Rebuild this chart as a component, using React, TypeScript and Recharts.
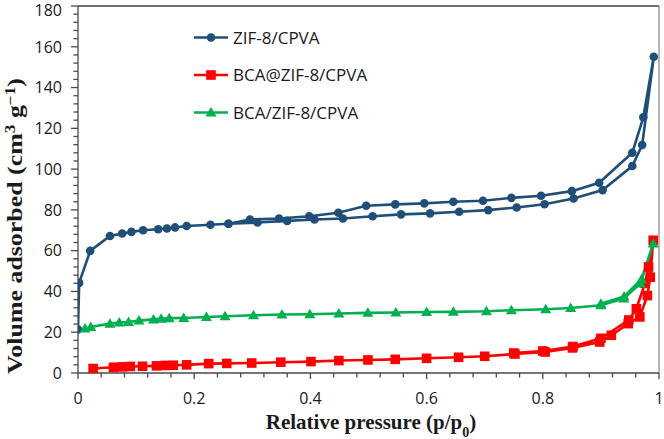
import React from 'react';
import { LineChart, Line, XAxis, YAxis, ReferenceLine } from 'recharts';

// ---------- data ----------
const zifP = [0.0, 0.002, 0.021, 0.055, 0.076, 0.092, 0.112, 0.138, 0.153, 0.167, 0.187, 0.228, 0.259, 0.309, 0.36, 0.407, 0.456, 0.507, 0.556, 0.606, 0.656, 0.706, 0.755, 0.803, 0.853, 0.903, 0.954, 0.971, 0.991, 0.973, 0.954, 0.897, 0.85, 0.797, 0.746, 0.697, 0.646, 0.596, 0.546, 0.496, 0.448, 0.398, 0.346, 0.296, 0.259];
const zifV = [21.3, 44.2, 59.9, 67.2, 68.4, 69.2, 70.0, 70.5, 70.9, 71.4, 72.1, 72.7, 73.2, 73.8, 74.6, 75.3, 75.8, 76.9, 77.8, 78.3, 79.1, 79.9, 81.2, 82.8, 85.6, 89.7, 101.5, 111.8, 155.1, 125.4, 108.0, 93.3, 89.2, 86.9, 85.9, 84.5, 84.0, 83.2, 82.7, 82.0, 78.6, 76.9, 75.8, 75.3, 73.2];

const bcaAtP = [0.026, 0.061, 0.076, 0.09, 0.111, 0.135, 0.15, 0.164, 0.187, 0.225, 0.256, 0.299, 0.349, 0.401, 0.449, 0.499, 0.546, 0.6, 0.655, 0.7, 0.752, 0.804, 0.851, 0.898, 0.918, 0.947, 0.967, 0.98, 0.985, 0.99, 0.982, 0.976, 0.961, 0.948, 0.9, 0.852, 0.8, 0.75];
const bcaAtV = [2.2, 2.8, 3.0, 3.2, 3.3, 3.5, 3.7, 3.8, 4.0, 4.6, 4.7, 4.9, 5.3, 5.6, 6.1, 6.4, 6.7, 7.2, 7.7, 8.2, 9.3, 10.3, 12.3, 15.2, 18.5, 24.2, 27.5, 38.0, 47.0, 65.1, 52.0, 44.0, 31.5, 26.0, 17.0, 13.0, 10.8, 9.8];

const bcaSlashP = [0.012, 0.022, 0.055, 0.071, 0.087, 0.105, 0.13, 0.143, 0.157, 0.182, 0.221, 0.253, 0.302, 0.351, 0.399, 0.449, 0.499, 0.547, 0.6, 0.646, 0.703, 0.746, 0.805, 0.848, 0.9, 0.939, 0.968, 0.99, 0.97, 0.94, 0.9];
const bcaSlashV = [21.8, 22.6, 24.2, 24.8, 25.0, 25.7, 26.3, 26.6, 26.9, 27.0, 27.5, 27.8, 28.3, 28.7, 28.8, 29.2, 29.5, 29.7, 29.9, 30.0, 30.3, 30.8, 31.3, 31.9, 33.2, 36.5, 43.9, 63.5, 46.0, 37.5, 34.0];

const xMajorTicks = [0, 0.2, 0.4, 0.6, 0.8, 1];
const yMajorTicks = [0, 20, 40, 60, 80, 100, 120, 140, 160, 180];

const seriesNames = ['ZIF-8/CPVA', 'BCA@ZIF-8/CPVA', 'BCA/ZIF-8/CPVA'];
const seriesColors = ['#1F4E79', '#FF0000', '#00B050'];

const toPoints = (p: number[], v: number[]) => p.map((x, i) => ({ x, y: v[i] }));
const zifData = toPoints(zifP, zifV);
const bcaAtData = toPoints(bcaAtP, bcaAtV);
const bcaSlashData = toPoints(bcaSlashP, bcaSlashV);

// minor ticks: 5 sub-divisions per major interval
const xTicks: number[] = [];
for (let i = 0; i < xMajorTicks.length - 1; i++) {
  for (let k = 0; k < 5; k++) xTicks.push(+(xMajorTicks[i] + (k * (xMajorTicks[i + 1] - xMajorTicks[i])) / 5).toFixed(4));
}
xTicks.push(xMajorTicks[xMajorTicks.length - 1]);
const yTicks: number[] = [];
for (let i = 0; i < yMajorTicks.length - 1; i++) {
  for (let k = 0; k < 5; k++) yTicks.push(yMajorTicks[i] + (k * (yMajorTicks[i + 1] - yMajorTicks[i])) / 5);
}
yTicks.push(yMajorTicks[yMajorTicks.length - 1]);

// ---------- styles ----------
const AXIS = '#4a4a4a';
const TICK_FONT = '"Open Sans", sans-serif';
const TITLE_FONT = '"Liberation Serif", "Times New Roman", serif';

const isMajor = (v: number, list: number[]) => list.some((m) => Math.abs(m - v) < 1e-6);

const YTick = (props: any) => {
  const { x, y, payload } = props;
  const v = payload.value;
  const major = isMajor(v, yMajorTicks);
  const top = v === yMajorTicks[yMajorTicks.length - 1];
  return (
    <g>
      <line x1={x - (major ? 7 : 4.5)} x2={x} y1={y} y2={y} stroke={AXIS} strokeWidth={1.3} />
      {major && (
        <text x={x - 16} y={y + (top ? 4 : 0)} dy="0.36em" textAnchor="end" fontFamily={TICK_FONT} fontSize={16} fill="#1a1a1a">
          {v}
        </text>
      )}
    </g>
  );
};

const XTick = (props: any) => {
  const { x, y, payload } = props;
  const v = payload.value;
  const major = isMajor(v, xMajorTicks);
  const label = v === 0 ? '0' : v === 1 ? '1' : v.toFixed(1);
  return (
    <g>
      <line x1={x} x2={x} y1={y} y2={y + (major ? 6 : 4.5)} stroke={AXIS} strokeWidth={1.3} />
      {major && (
        <text x={x} y={y + 31} textAnchor="middle" fontFamily={TICK_FONT} fontSize={16} fill="#1a1a1a">
          {label}
        </text>
      )}
    </g>
  );
};

const markerFor = (i: number, cx: number, cy: number, key?: any) => {
  if (i === 0) return <circle key={key} cx={cx} cy={cy} r={4.3} fill={seriesColors[0]} />;
  if (i === 1) return <rect key={key} x={cx - 4.8} y={cy - 4.8} width={9.6} height={9.6} fill={seriesColors[1]} />;
  return <path key={key} d={`M${cx},${cy - 5.5} L${cx + 5.5},${cy + 4} L${cx - 5.5},${cy + 4} Z`} fill={seriesColors[2]} />;
};

const makeDot = (i: number) => (props: any) => {
  const { cx, cy, index } = props;
  if (cx == null || cy == null) return <g key={index} />;
  return markerFor(i, cx, cy, index);
};

export default function App() {
  return (
    <div style={{ position: 'absolute', left: 0, top: 0, width: 664, height: 439, background: '#fff' }}>
      <LineChart width={664} height={439} margin={{ top: 6, right: 5, left: 0, bottom: 0 }}>
        <XAxis
          dataKey="x"
          type="number"
          domain={[0, 1]}
          ticks={xTicks}
          interval={0}
          tick={<XTick />}
          tickLine={false}
          tickSize={0}
          tickMargin={0}
          height={66}
          axisLine={{ stroke: AXIS, strokeWidth: 1.3 }}
          allowDataOverflow
        />
        <YAxis
          type="number"
          domain={[0, 180]}
          ticks={yTicks}
          interval={0}
          tick={<YTick />}
          tickLine={false}
          tickSize={0}
          tickMargin={0}
          width={78}
          axisLine={{ stroke: AXIS, strokeWidth: 1.3 }}
          allowDataOverflow
        />
        <ReferenceLine y={180} stroke="#404040" strokeWidth={1.3} />
        <ReferenceLine x={1} stroke="#8c8c8c" strokeWidth={1.3} />
        <Line
          data={zifData}
          dataKey="y"
          name={seriesNames[0]}
          stroke={seriesColors[0]}
          strokeWidth={2.6}
          dot={makeDot(0)}
          activeDot={false}
          isAnimationActive={false}
        />
        <Line
          data={bcaAtData}
          dataKey="y"
          name={seriesNames[1]}
          stroke={seriesColors[1]}
          strokeWidth={2.6}
          dot={makeDot(1)}
          activeDot={false}
          isAnimationActive={false}
        />
        <Line
          data={bcaSlashData}
          dataKey="y"
          name={seriesNames[2]}
          stroke={seriesColors[2]}
          strokeWidth={2.6}
          dot={makeDot(2)}
          activeDot={false}
          isAnimationActive={false}
        />
      </LineChart>
      <svg width={664} height={439} style={{ position: 'absolute', left: 0, top: 0, pointerEvents: 'none' }}>
        {seriesNames.map((name, i) => {
          const cy = 37.5 + i * 37.5;
          return (
            <g key={name}>
              <line x1={194} x2={228} y1={cy} y2={cy} stroke={seriesColors[i]} strokeWidth={2.6} />
              {markerFor(i, 211, cy)}
              <text x={233} y={cy} dy="0.36em" fontFamily={TICK_FONT} fontSize={17} fill="#1a1a1a">
                {name}
              </text>
            </g>
          );
        })}
        <text
          x={371}
          y={429}
          textAnchor="middle"
          fontFamily={TITLE_FONT}
          fontWeight="bold"
          fontSize={21}
          fill="#1a1a1a"
        >
          Relative pressure (p/p<tspan baselineShift="sub" fontSize={14}>0</tspan>)
        </text>
        <text
          transform="translate(22,226) rotate(-90)"
          x={0}
          y={0}
          textAnchor="middle"
          fontFamily={TITLE_FONT}
          fontWeight="bold"
          fontSize={21}
          textLength={296}
          lengthAdjust="spacingAndGlyphs"
          fill="#1a1a1a"
        >
          Volume adsorbed (cm<tspan baselineShift="super" fontSize={14}>3</tspan> g<tspan baselineShift="super" fontSize={14}>−1</tspan>)
        </text>
      </svg>
    </div>
  );
}
